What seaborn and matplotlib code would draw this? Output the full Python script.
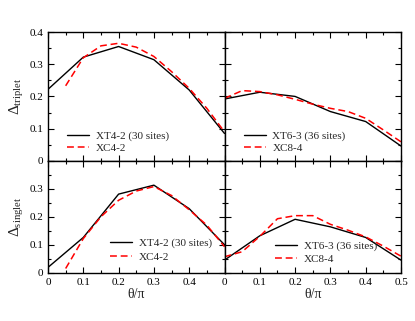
import numpy as np
import pandas as pd
import matplotlib
matplotlib.use("Agg")
import matplotlib.pyplot as plt
import seaborn as sns
from matplotlib.ticker import MultipleLocator, FixedLocator, FixedFormatter

# ---- data ----
x_t = [0.0, 0.1, 0.2, 0.3, 0.4, 0.5]
x_c = [0.0, 0.05, 0.1, 0.15, 0.2, 0.25, 0.3, 0.35, 0.4, 0.45, 0.5]
x_c_left = [0.05, 0.1, 0.15, 0.2, 0.25, 0.3, 0.35, 0.4, 0.45, 0.5]

trip_xt42 = [0.222, 0.322, 0.355, 0.314, 0.220, 0.085]
trip_xc42 = [0.233, 0.320, 0.357, 0.365, 0.353, 0.324, 0.277, 0.225, 0.163, 0.090]
trip_xt63 = [0.192, 0.213, 0.200, 0.153, 0.122, 0.046]
trip_xc84 = [0.194, 0.218, 0.215, 0.205, 0.191, 0.176, 0.163, 0.153, 0.132, 0.096, 0.059]

sing_xt42 = [0.019, 0.126, 0.281, 0.313, 0.229, 0.100]
sing_xc42 = [0.015, 0.122, 0.200, 0.259, 0.292, 0.308, 0.276, 0.225, 0.170, 0.093]
sing_xt63 = [0.045, 0.132, 0.191, 0.164, 0.126, 0.045]
sing_xc84 = [0.057, 0.075, 0.130, 0.193, 0.204, 0.204, 0.173, 0.152, 0.128, 0.095, 0.059]

lab_xt42 = "XT4-2 (30 sites)"
lab_xc42 = "XC4-2"
lab_xt63 = "XT6-3 (36 sites)"
lab_xc84 = "XC8-4"

sns.set_style("ticks")
plt.rcParams['font.family'] = ['Liberation Serif', 'DejaVu Serif']
plt.rcParams['mathtext.fontset'] = 'custom'
plt.rcParams['mathtext.rm'] = 'Liberation Serif'
plt.rcParams['mathtext.it'] = 'Liberation Serif:italic'
plt.rcParams['mathtext.bf'] = 'Liberation Serif:bold'

fig = plt.figure(figsize=(4.15, 3.21), dpi=100)
gs = fig.add_gridspec(2, 2, height_ratios=[129, 112], wspace=0, hspace=0,
                      left=48/415, right=401/415, top=1-32/321, bottom=1-272.7/321)
axes = [[fig.add_subplot(gs[r, c]) for c in range(2)] for r in range(2)]

dash = (0, (4.5, 2.5))

def draw(ax, xb, yb, lb, xr, yr, lr):
    sns.lineplot(x=xb, y=yb, ax=ax, color='black', lw=1.0, label=lb)
    sns.lineplot(x=xr, y=yr, ax=ax, color='#ff0000', lw=1.1, label=lr)
    ax.lines[1].set_linestyle(dash)

draw(axes[0][0], x_t, trip_xt42, lab_xt42, x_c_left, trip_xc42, lab_xc42)
draw(axes[0][1], x_t, trip_xt63, lab_xt63, x_c, trip_xc84, lab_xc84)
draw(axes[1][0], x_t, sing_xt42, lab_xt42, x_c_left, sing_xc42, lab_xc42)
draw(axes[1][1], x_t, sing_xt63, lab_xt63, x_c, sing_xc84, lab_xc84)

leg_pos = {(0, 0): (0.108, 0.062, 0.15), (0, 1): (0.108, 0.062, 0.15),
           (1, 0): (0.352, 0.10, 0.3), (1, 1): (0.287, 0.08, 0.25)}

for r in range(2):
    for c in range(2):
        ax = axes[r][c]
        ax.set_xlim(0, 0.5)
        ax.set_ylim(0, 0.4)
        for s in ax.spines.values():
            s.set_linewidth(1.0)
            s.set_color('black')
        ax.tick_params(which='both', direction='in', top=True, right=True,
                       bottom=True, left=True, labelsize=8, colors='black', width=0.8)
        ax.tick_params(which='major', length=4)
        ax.tick_params(which='minor', length=2.2)
        ax.xaxis.set_minor_locator(MultipleLocator(0.05))
        ax.yaxis.set_minor_locator(MultipleLocator(0.05))
        ax.xaxis.set_major_locator(FixedLocator([0, 0.1, 0.2, 0.3, 0.4, 0.5]))
        if c == 0:
            xl = ['0', '0.1', '0.2', '0.3', '0.4', '']
        else:
            xl = ['0', '0.1', '0.2', '0.3', '0.4', '0.5']
        ax.xaxis.set_major_formatter(FixedFormatter(xl))
        ax.yaxis.set_major_locator(FixedLocator([0, 0.1, 0.2, 0.3, 0.4]))
        if r == 0:
            yl = ['0', '0.1', '0.2', '0.3', '0.4']
        else:
            yl = ['0', '0.1', '0.2', '0.3', '']
        ax.yaxis.set_major_formatter(FixedFormatter(yl))
        if r == 0:
            ax.tick_params(labelbottom=False)
        if c == 1:
            ax.tick_params(labelleft=False)
        ax.set_xlabel('')
        ax.set_ylabel('')
        lx, ly, ls = leg_pos[(r, c)]
        ax.legend(loc='lower left', bbox_to_anchor=(lx, ly), frameon=False,
                  fontsize=8, borderaxespad=0, borderpad=0, handlelength=2.0,
                  handletextpad=0.6, labelspacing=ls)

axes[0][0].set_ylabel(r'$\Delta_{\rm triplet}$', fontsize=11, labelpad=2)
axes[1][0].set_ylabel(r'$\Delta_{\rm singlet}$', fontsize=11, labelpad=2)
axes[1][0].set_xlabel(r'θ/π', fontsize=10, labelpad=1)
axes[1][1].set_xlabel(r'θ/π', fontsize=10, labelpad=1)

fig.savefig('out.png', dpi=100)
